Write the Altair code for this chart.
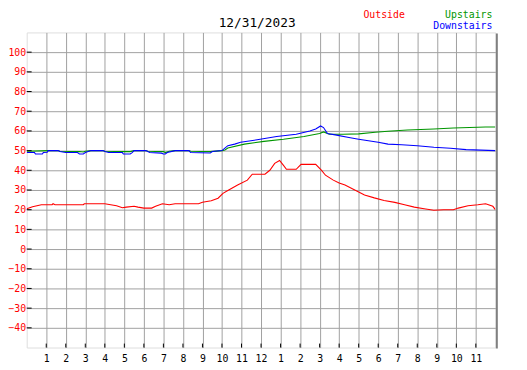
import altair as alt
import pandas as pd

# ---- data (hour of day, temperature) ----
outside_hours = [0.0, 0.3, 0.75, 1.3, 1.35, 1.45, 2.9, 2.95, 4.0, 4.3, 4.6, 4.9, 5.1, 5.5, 5.7,
                 6.0, 6.4, 6.6, 6.95, 7.3, 7.6, 8.8, 9.0, 9.45, 9.8, 10.05, 10.3, 10.8, 11.3,
                 11.55, 12.2, 12.45, 12.7, 12.95, 13.15, 13.3, 13.8, 14.05, 14.8, 15.1, 15.3,
                 15.7, 16.0, 16.3, 16.8, 17.3, 17.8, 18.3, 18.85, 19.35, 19.85, 20.35, 20.85,
                 21.35, 21.85, 22.1, 22.6, 23.1, 23.5, 23.87, 24.0]
outside_vals = [20.5, 21.5, 22.5, 22.5, 23, 22.5, 22.5, 23, 23, 22.5, 22, 21, 21.3, 21.7, 21.3,
                20.8, 20.8, 21.7, 23, 22.5, 23, 23, 23.8, 24.5, 25.8, 28.3, 29.7, 32.5, 35,
                38, 38, 40, 43.5, 45, 42.5, 40.5, 40.5, 43, 43, 40, 37.5,
                35, 33.5, 32.5, 30, 27.5, 26, 24.7, 23.7, 22.5, 21.3, 20.5, 19.7,
                20, 20, 20.8, 22, 22.5, 23, 21.7, 20]

up_hours = [0.0, 1.1, 1.6, 1.7, 2.7, 2.9, 3.0, 3.3, 3.9, 4.0, 5.0, 5.3, 5.5, 6.1, 6.2, 7.0, 7.1,
            7.3, 7.6, 8.3, 8.4, 9.4, 10.0, 10.15, 10.3, 11.15, 12.15, 13.15, 14.2, 15.0, 15.2,
            15.5, 16.2, 17.0, 17.85, 18.5, 19.5, 20.85, 21.85, 23.5, 24.0]
up_vals = [49.7, 50, 50, 49.7, 49.5, 49.3, 49.7, 50, 50, 49.7, 49.5, 49.5, 50, 50, 49.7, 49.5, 49,
           49.7, 50, 50, 49.7, 49.5, 50, 50.3, 51.3, 53.3, 54.7, 55.8, 57.2, 58.7, 59.5,
           58.3, 58.3, 58.5, 59.3, 59.8, 60.5, 61, 61.5, 62, 62]

down_hours = [0.0, 0.4, 0.45, 0.8, 0.85, 1.05, 1.1, 1.6, 1.7, 2.0, 2.6, 2.7, 2.9, 3.0, 3.3, 3.9,
              4.0, 4.2, 4.9, 4.95, 5.3, 5.4, 5.5, 6.1, 6.2, 6.3, 6.9, 7.0, 7.1, 7.2, 7.6, 8.3,
              8.4, 9.4, 9.5, 10.0, 10.15, 10.3, 10.65, 10.95, 11.8, 12.8, 13.8, 14.5, 14.8,
              15.05, 15.2, 15.4, 15.8, 16.5, 17.0, 17.5, 18.0, 18.5, 19.2, 20.0, 20.85, 21.7,
              22.5, 24.0]
down_vals = [49, 49, 48.3, 48.3, 49, 49.2, 50, 50, 49.5, 49, 49, 48.3, 48.3, 49, 50, 50,
             49.5, 49, 49, 48.3, 48.3, 49, 50, 50, 49.5, 49, 48.7, 48.3, 48.3, 49, 50, 50,
             49, 48.8, 49.5, 50, 51.3, 52.5, 53.3, 54.2, 55.5, 57.2, 58.3, 60, 61,
             62.5, 61.7, 58.7, 58, 56.7, 55.8, 55, 54.2, 53.3, 53, 52.5, 51.7, 51.2,
             50.5, 50]

series_names = ["Outside", "Upstairs", "Downstairs"]
series_colors = ["#ff0000", "#009600", "#0000ff"]
title_text = "12/31/2023"
y_ticks = list(range(-40, 101, 10))
x_ticks = list(range(1, 24))

rows = []
for h, v in zip(outside_hours, outside_vals):
    rows.append({"hour": h, "temp": v, "series": "Outside"})
for h, v in zip(up_hours, up_vals):
    rows.append({"hour": h, "temp": v, "series": "Upstairs"})
for h, v in zip(down_hours, down_vals):
    rows.append({"hour": h, "temp": v, "series": "Downstairs"})
df = pd.DataFrame(rows)

W, H = 476, 320
PAD_L, PAD_T = 19, 22
FONT = "DejaVu Sans Mono"

xs = alt.Scale(domain=[0, 24], nice=False, zero=False)
ys = alt.Scale(domain=[-50, 110], nice=False, zero=False)

x_axis = alt.Axis(values=x_ticks, labelExpr="datum.value % 12 == 0 ? '12' : '' + (datum.value % 12)",
                  grid=True, gridColor="#a0a0a0", gridWidth=1, gridOpacity=1,
                  ticks=False, domain=False, labelFont=FONT, labelFontSize=10,
                  labelColor="#000000", labelPadding=6, title=None, labelAngle=0,
                  labelOverlap=False, labelFlush=False)
y_axis = alt.Axis(values=y_ticks, grid=True, gridColor="#a0a0a0", gridWidth=1, gridOpacity=1,
                  ticks=False, domain=False, labelFont=FONT, labelFontSize=10,
                  labelColor="#ff0000", labelPadding=1, title=None,
                  labelOverlap=False, labelFlush=False)

lines = alt.Chart(df).mark_line(strokeWidth=1.1, clip=True).encode(
    x=alt.X("hour:Q", scale=xs, axis=x_axis, title=None),
    y=alt.Y("temp:Q", scale=ys, axis=y_axis, title=None),
    color=alt.Color("series:N", scale=alt.Scale(domain=series_names, range=series_colors), legend=None),
    order=alt.Order("hour:Q"),
    detail="series:N",
)

ytick_df = pd.DataFrame({"v": y_ticks})
ytick_marks = alt.Chart(ytick_df).mark_rule(color="#000000", strokeWidth=1).encode(
    y=alt.Y("v:Q", scale=ys, axis=y_axis, title=None), x=alt.value(0), x2=alt.value(5))

xtick_df = pd.DataFrame({"h": x_ticks})
xtick_marks = alt.Chart(xtick_df).mark_rule(color="#000000", strokeWidth=1).encode(
    x=alt.X("h:Q", scale=xs, axis=x_axis, title=None), y=alt.value(H - 4), y2=alt.value(H))

shadow = alt.Chart(pd.DataFrame({"a": [0]})).mark_rule(color="#808080", strokeWidth=2).encode(
    x=alt.value(W + 1.5), y=alt.value(1), y2=alt.value(H + 1))

title = alt.Chart(pd.DataFrame({"t": [title_text]})).mark_text(
    font=FONT, fontSize=13, color="#000000", align="center", baseline="middle").encode(
    text="t:N", x=alt.value(261 - 8 - PAD_L), y=alt.value(-10))

leg_df = pd.DataFrame({"name": series_names, "color": series_colors})
leg_outside = alt.Chart(leg_df[leg_df.name == "Outside"]).mark_text(
    font=FONT, fontSize=10, align="left", baseline="alphabetic", color="#ff0000").encode(
    text="name:N", x=alt.value(369 - 8 - PAD_L), y=alt.value(-14.5))
leg_up = alt.Chart(leg_df[leg_df.name == "Upstairs"]).mark_text(
    font=FONT, fontSize=10, align="right", baseline="alphabetic", color="#009600").encode(
    text="name:N", x=alt.value(500 - 8 - PAD_L), y=alt.value(-14.5))
leg_down = alt.Chart(leg_df[leg_df.name == "Downstairs"]).mark_text(
    font=FONT, fontSize=10, align="right", baseline="alphabetic", color="#0000ff").encode(
    text="name:N", x=alt.value(500 - 8 - PAD_L), y=alt.value(-3))

chart = alt.layer(lines, ytick_marks, xtick_marks, shadow, title, leg_outside, leg_up, leg_down).properties(
    width=W, height=H,
    autosize=alt.AutoSizeParams(type="none"),
    padding={"left": PAD_L, "top": PAD_T, "right": 519 - PAD_L - W, "bottom": 362 - PAD_T - H},
).configure_view(stroke="#000000", strokeWidth=1.5).configure(background="#ffffff")

chart.save("out.html", embed_options={"renderer": "svg", "actions": False})
